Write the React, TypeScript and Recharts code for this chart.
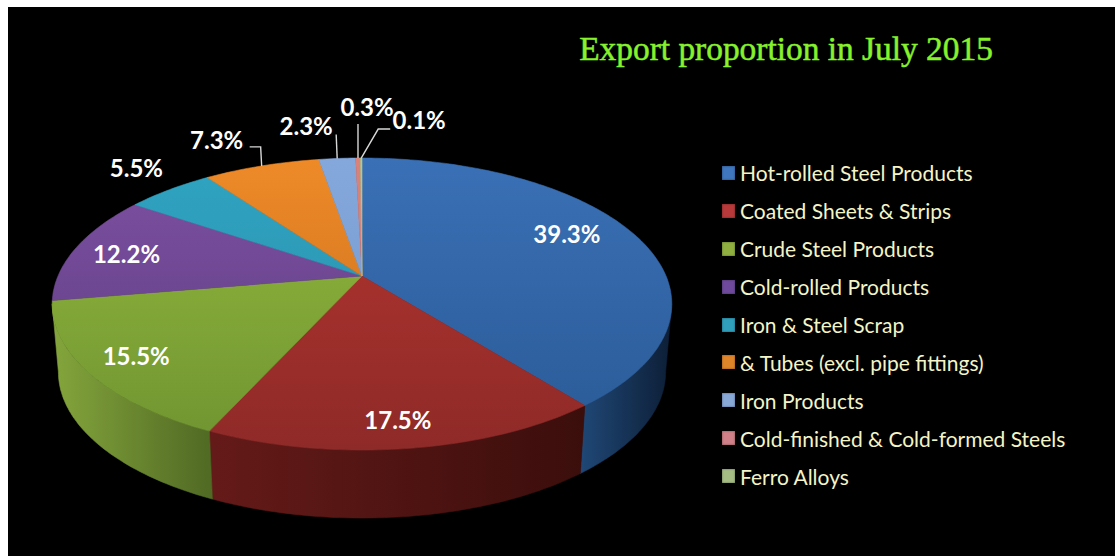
import { PieChart, Pie, Legend } from "recharts"

const categories = [
  "Hot-rolled Steel Products",
  "Coated Sheets & Strips",
  "Crude Steel Products",
  "Cold-rolled Products",
  "Iron & Steel Scrap",
  "& Tubes (excl. pipe fittings)",
  "Iron Products",
  "Cold-finished & Cold-formed Steels",
  "Ferro Alloys",
]
const shares = [39.3, 17.5, 15.5, 12.2, 5.5, 7.3, 2.3, 0.3, 0.1]
const topColors = [
  ["#3a70b6", "#2a5a96"],
  ["#b5352f", "#8e2a28"],
  ["#95b93e", "#6f9431"],
  ["#7d50a2", "#5c3d80"],
  ["#2fa4c2", "#2a8ca8"],
  ["#ee8a28", "#c46c1c"],
  ["#84a8dc", "#7396c8"],
  ["#d9827c", "#cc7670"],
  ["#b4c98c", "#a8bd80"],
]
const wallColors = [
  ["#1f4775", "#0d1e36"],
  ["#641a18", "#3b0e0c"],
  ["#84a53c", "#4f6823"],
]
const legendColors = ["#3f76bd", "#b8393a", "#8fb040", "#6f4a9c", "#2f9fbc", "#e0842a", "#88a8d8", "#cf8088", "#a5bd85"]

const tableData = categories.map((name, i) => ({ name, value: shares[i], fill: `url(#top${i})` }))

const PAGE_W = 1115
const PAGE_H = 556
const DEPTH = 68 // wall height of the fake 3D slab
const TILT = 0.192 // perspective strength
const SQUASH = 0.4625 // vertical scale of the disc
const BOTTOM_SHRINK = 0.98 // lower rim sits slightly further away

// circle angle (recharts degrees) -> point on the tilted disc
function project(cx: number, cy: number, r: number, angle: number, frac = 1) {
  const rad = ((90 - angle) * Math.PI) / 180
  const u = Math.sin(rad) * frac
  const w = -Math.cos(rad) * frac
  const d = 1 - TILT * w
  return { x: cx + (r * u) / d, y: cy + (r * SQUASH * w) / d }
}

function arcPoints(cx: number, cy: number, r: number, from: number, to: number) {
  const steps = Math.max(2, Math.ceil(Math.abs(to - from)))
  const pts = []
  for (let i = 0; i <= steps; i++) pts.push(project(cx, cy, r, from + ((to - from) * i) / steps))
  return pts
}

const toPath = (pts: { x: number; y: number }[]) => pts.map((p) => `${p.x.toFixed(1)},${p.y.toFixed(1)}`).join(" L")

function TopSlice(props: any) {
  const { cx, cy, outerRadius, startAngle, endAngle, index } = props
  const pts = arcPoints(cx, cy, outerRadius, startAngle, endAngle)
  const fill = `url(#top${index})`
  return <path d={`M${cx},${cy} L${toPath(pts)} Z`} fill={fill} stroke={fill} strokeWidth={0.6} />
}

function WallSlice(props: any) {
  const { cx, cy, outerRadius, startAngle, endAngle, index } = props
  // only the part of the rim that faces the viewer: 101 to 259 deg clockwise from the top
  const from = Math.min(startAngle, -11)
  const to = Math.max(endAngle, -169)
  if (from <= to) return null
  const upper = arcPoints(cx, cy, outerRadius, from, to)
  const lower = upper.map((p) => ({ x: cx + (p.x - cx) * BOTTOM_SHRINK, y: p.y + DEPTH })).reverse()
  const fill = `url(#wall${index})`
  return <path d={`M${toPath(upper)} L${toPath(lower)} Z`} fill={fill} stroke={fill} strokeWidth={0.6} />
}

// text centre relative to the rim point of the slice's mid angle
const labelOffsets = [
  [-65, 1],
  [-10, -29],
  [47, -18],
  [50, 6],
  [-33, -22],
  [-45, -26],
  [-31, -33],
  [9, -52],
  [58, -39],
]
// leader bends, relative to the rim point; empty when the label sits without a line
const leaderBends: number[][][] = [
  [],
  [],
  [],
  [],
  [],
  [[-1, -19], [-12, -19]],
  [[-1, -24]],
  [[0, -34]],
  [[17, -29], [29, -29]],
]

function SliceLabel(props: any) {
  const { cx, cy, outerRadius, midAngle, index, value } = props
  const rim = project(cx, cy, outerRadius, midAngle)
  const [dx, dy] = labelOffsets[index]
  const bends = leaderBends[index]
  return (
    <g>
      {bends.length > 0 && (
        <polyline
          points={[[0, 0], ...bends].map(([a, b]) => `${rim.x + a},${rim.y + b}`).join(" ")}
          fill="none"
          stroke="#d8d8d8"
          strokeWidth={1.4}
        />
      )}
      <text
        x={rim.x + dx}
        y={rim.y + dy}
        textAnchor="middle"
        dominantBaseline="central"
        fill="#ffffff"
        fontFamily="Lato, sans-serif"
        fontWeight={700}
        fontSize={24}
      >
        {`${value}%`}
      </text>
    </g>
  )
}

function SwatchLegend({ payload }: any) {
  const items = (payload || []).filter((item: any) => item.type !== "none")
  return (
    <div style={{ fontFamily: "Lato, sans-serif", fontSize: 21, color: "#f4f4c6" }}>
      {items.map((item: any, i: number) => (
        <div key={item.value} style={{ display: "flex", alignItems: "center", height: 37.9, whiteSpace: "nowrap" }}>
          <span style={{ width: 13, height: 14, marginRight: 5, background: legendColors[i], boxShadow: "inset 0 0 2px rgba(0,0,0,0.5)" }} />
          {item.value}
        </div>
      ))}
    </div>
  )
}

export default function App() {
  return (
    <div style={{ position: "absolute", left: 0, top: 0, width: PAGE_W, height: PAGE_H, background: "#fff", overflow: "hidden" }}>
      <div style={{ position: "absolute", left: 8, top: 7, right: 0, bottom: 0, background: "#000" }} />
      <div style={{ position: "absolute", left: 0, top: 0 }}>
        <PieChart width={PAGE_W} height={PAGE_H} margin={{ top: 0, right: 0, bottom: 0, left: 0 }}>
          <defs>
            {topColors.map(([a, b], i) => (
              <linearGradient key={i} id={`top${i}`} gradientUnits="userSpaceOnUse" x1="0" y1="158" x2="0" y2="450">
                <stop offset="0%" stopColor={a} />
                <stop offset="100%" stopColor={b} />
              </linearGradient>
            ))}
            {wallColors.map(([a, b], i) => {
              const spans = [[582, 672], [215, 582], [53, 215]]
              return (
                <linearGradient key={i} id={`wall${i}`} gradientUnits="userSpaceOnUse" x1={spans[i][0]} y1="0" x2={spans[i][1]} y2="0">
                  <stop offset="0%" stopColor={a} />
                  <stop offset="100%" stopColor={b} />
                </linearGradient>
              )
            })}
          </defs>
          <text x={786} y={60} textAnchor="middle" fill="#86f22c" stroke="#86f22c" strokeWidth={0.5} fontFamily="'Liberation Serif', serif" fontSize={33.4}>
            Export proportion in July 2015
          </text>
          <Pie
            data={tableData}
            dataKey="value"
            nameKey="name"
            cx={362}
            cy={276}
            outerRadius={304}
            startAngle={90}
            endAngle={-270}
            legendType="none"
            shape={WallSlice}
            label={false}
            labelLine={false}
            isAnimationActive={false}
          />
          <Pie
            data={tableData}
            dataKey="value"
            nameKey="name"
            cx={362}
            cy={276}
            outerRadius={304}
            startAngle={90}
            endAngle={-270}
            shape={TopSlice}
            label={SliceLabel}
            labelLine={false}
            isAnimationActive={false}
          />
          <Legend
            layout="vertical"
            align="right"
            verticalAlign="top"
            itemSorter={null}
            wrapperStyle={{ left: 722, top: 154, right: "auto", width: 385 }}
            content={SwatchLegend}
          />
        </PieChart>
      </div>
    </div>
  )
}
